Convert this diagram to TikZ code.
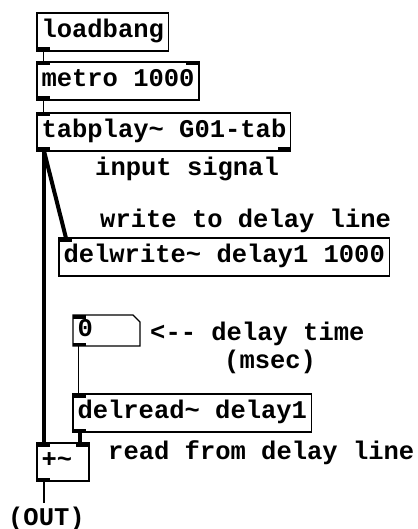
\documentclass[tikz,border=0pt]{standalone}
\usepackage{fontspec}
\setmonofont{Liberation Mono}
\newcommand\pdfont{\fontsize{25.5}{30}\selectfont\ttfamily\bfseries}

\tikzstyle{obj} = [rectangle, draw=black, line width=1.3pt, anchor=north west, outer sep=0pt, inner xsep=4.5pt, inner ysep=0pt, minimum height=38pt, text height=16pt, text depth=5pt, font=\pdfont]
\tikzstyle{numbox} = [obj, draw=none, minimum height=31pt, text width=58pt, align=left]
\tikzstyle{comment} = [anchor=base west, inner sep=0pt, font=\pdfont]
\tikzstyle{ctl} = [line width=1.5pt]
\tikzstyle{sig} = [line width=4pt]

\begin{document}
\begin{tikzpicture}[x=1pt, y=-1pt]
\useasboundingbox (0,0) rectangle (417,529);

\node (loadbang) [obj] at (37,13) {loadbang};
\node (metro) [obj] at (37,62) {metro 1000};
\node (tabplay) [obj] at (37,113) {tabplay\textasciitilde{} G01-tab};
\node (delwrite) [obj] at (59,238) {delwrite\textasciitilde{} delay1 1000};
\node (num) [numbox] at (73,315) {0};
\node (delread) [obj] at (73,394) {delread\textasciitilde{} delay1};
\node (plus) [obj, text width=43pt, align=left] at (37,443) {+\textasciitilde};

% comments
\node (c1) [comment] at (95,176) {input signal};
\node (c2) [comment] at (100,227) {write to delay line};
\node (c3) [comment] at (150,340) {<-{}- delay time};
\node (c4) [comment] at (224,368) {(msec)};
\node (c5) [comment] at (108,459) {read from delay line};
\node (out) [comment] at (8,525) {(OUT)};

% number box outline
\draw [line width=1.3pt] (num.north west) -- ([xshift=-7pt]num.north east) -- ([yshift=-7pt]num.north east) -- (num.south east) -- (num.south west) -- cycle;

% inlets and outlets
\foreach \n in {metro, tabplay, delwrite, num, delread, plus}
  \fill (\n.north west) rectangle ([xshift=13pt, yshift=-3.5pt]\n.north west);
\foreach \n in {metro, plus}
  \fill (\n.north east) rectangle ([xshift=-13pt, yshift=-3.5pt]\n.north east);
\foreach \n in {loadbang, metro, tabplay, num, delread, plus}
  \fill (\n.south west) rectangle ([xshift=13pt, yshift=3.5pt]\n.south west);
\fill (tabplay.south east) rectangle ([xshift=-13pt, yshift=3.5pt]tabplay.south east);

% connections
\draw [ctl] ([xshift=6.5pt]loadbang.south west) -- ([xshift=6.5pt]metro.north west);
\draw [ctl] ([xshift=6.5pt]metro.south west) -- ([xshift=6.5pt]tabplay.north west);
\draw [sig] ([xshift=7pt]tabplay.south west) -- ([xshift=7pt]plus.north west);
\draw [sig] ([xshift=7pt]tabplay.south west) -- ([xshift=7pt]delwrite.north west);
\draw [ctl] ([xshift=5.5pt]num.south west) -- ([xshift=5.5pt]delread.north west);
\draw [sig] ([xshift=6.5pt]delread.south west) -- ([xshift=6.5pt]delread.south west |- plus.north);
\draw [ctl] ([xshift=7pt]plus.south west) -- ([xshift=7pt, yshift=3pt]plus.south west |- out.north);
\end{tikzpicture}
\end{document}
